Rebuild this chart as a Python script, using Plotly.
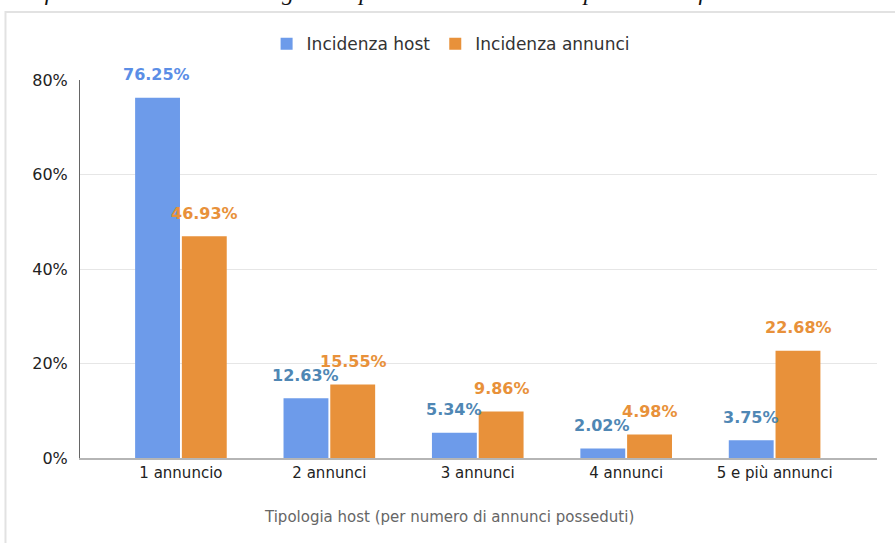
import plotly.graph_objects as go

categories = ["1 annuncio", "2 annunci", "3 annunci", "4 annunci", "5 e più annunci"]
host_share = [76.25, 12.63, 5.34, 2.02, 3.75]
listing_share = [46.93, 15.55, 9.86, 4.98, 22.68]
y_ticks = [0, 20, 40, 60, 80]
y_tick_labels = ["0%", "20%", "40%", "60%", "80%"]
x_title = "Tipologia host (per numero di annunci posseduti)"
caption = "Grafico 7 – Distribuzione degli host per numero di annunci posseduti a febbraio 2019"

BLUE = "#6d9bea"
ORANGE = "#e8913a"
BLUE_LABEL_FIRST = "#5b8ee6"
BLUE_LABEL = "#4f87b4"
ORANGE_LABEL = "#e8913a"
FONT = "DejaVu Sans, Verdana, sans-serif"

fig = go.Figure()
fig.add_trace(go.Bar(name="Incidenza host", x=categories, y=host_share,
                     marker=dict(color=BLUE, line=dict(width=0))))
fig.add_trace(go.Bar(name="Incidenza annunci", x=categories, y=listing_share,
                     marker=dict(color=ORANGE, line=dict(width=0))))

# data labels
for i, (c, v) in enumerate(zip(categories, host_share)):
    fig.add_annotation(x=c, y=v, xref="x", yref="y", text=f"{v:.2f}%",
                       showarrow=False, xshift=-24, yshift=23,
                       font=dict(family=FONT, size=16, color=BLUE_LABEL_FIRST if i == 0 else BLUE_LABEL, weight="bold"))
for c, v in zip(categories, listing_share):
    fig.add_annotation(x=c, y=v, xref="x", yref="y", text=f"{v:.2f}%",
                       showarrow=False, xshift=24, yshift=23,
                       font=dict(family=FONT, size=16, color=ORANGE_LABEL, weight="bold"))

# x axis title (centered under the chart panel)
fig.add_annotation(x=0.463, y=-0.155, xref="paper", yref="paper", xanchor="center", yanchor="middle",
                   text=x_title, showarrow=False, font=dict(family=FONT, size=15, color="#666"))

# cropped caption at the very top
fig.add_annotation(x=-0.094, y=1.196, xref="paper", yref="paper", xanchor="left", yanchor="bottom",
                   text=f"<i>{caption}</i>", borderpad=0,
                   showarrow=False, font=dict(family="Liberation Serif", size=24, color="#111"))

# panel border
fig.add_shape(type="rect", xref="paper", yref="paper", x0=-0.0935, x1=1.2, y0=-0.4, y1=1.18,
              line=dict(color="#e2e2e2", width=2), fillcolor="rgba(0,0,0,0)", layer="below")

fig.update_layout(
    width=895, height=543,
    margin=dict(l=80, r=18, t=80, b=85),
    paper_bgcolor="white", plot_bgcolor="white",
    barmode="group", bargap=0.37, bargroupgap=0.04,
    font=dict(family=FONT, size=15, color="#333"),
    showlegend=True,
    legend=dict(orientation="h", x=0.465, xanchor="center", y=1.095, yanchor="middle",
                font=dict(family=FONT, size=17, color="#333"), itemwidth=30,
                traceorder="normal", itemsizing="constant"),
    xaxis=dict(range=[-0.68, 4.69], showgrid=False, showline=True, linecolor="#b5b5b5", linewidth=2,
               ticks="", tickfont=dict(size=15, color="#222")),
    yaxis=dict(range=[0, 80], tickvals=y_ticks, ticktext=y_tick_labels, showgrid=True,
               gridcolor="#e6e6e6", gridwidth=1, showline=True, linecolor="#666", linewidth=1,
               ticks="", zeroline=False, tickfont=dict(size=16, color="#222"), ticklabelstandoff=8),
)

fig.write_html("out.html")
